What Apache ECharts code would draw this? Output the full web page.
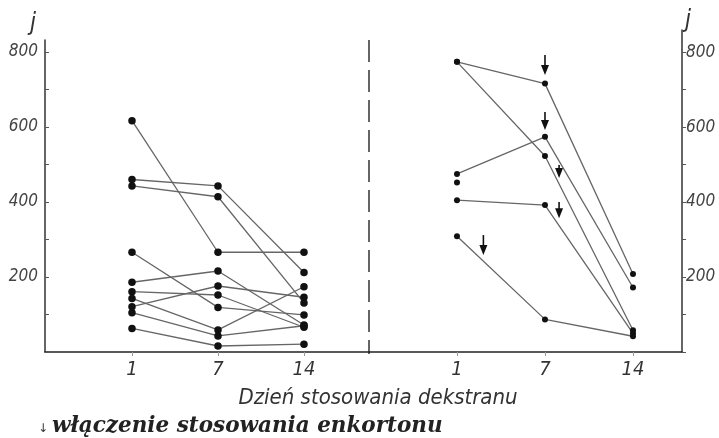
<!DOCTYPE html>
<html>
<head>
<meta charset="utf-8">
<script src="https://cdn.jsdelivr.net/npm/echarts@6/dist/echarts.min.js"></script>
<style>html,body{margin:0;padding:0;background:#fff}#c{width:719px;height:438px}</style>
</head>
<body>
<div id="c"></div>
<script>
// Day categories (positions 0,1,2 on each panel's x axis)
const days = ['1', '7', '14'];
// Y tick values
const yTicks = [200, 400, 600, 800];

// Left panel: values on day 1, 7, 14
const leftA = [617, 266, 266];
const leftB = [460, 443, 212];
const leftC = [443, 414, 131];
const leftD = [266, 119, 99];
const leftE = [186, 216, 72];
const leftF = [161, 152, 66];
const leftG = [143, 59, 174];
const leftH = [121, 176, 146];
const leftI = [105, 43, 70];
const leftJ = [63, 16, 21];

// Right panel: values on day 1, 7, 14
const rightA = [774, 716, 208];
const rightB = [774, 523, 58];
const rightC = [475, 574, 172];
const rightD = [452, null, null];
const rightE = [405, 392, 50];
const rightF = [309, 87, 42];

// Arrows (start of enkorton treatment): [category position, tail value, tip value]
const arrows = [[1, 792, 739], [1, 640, 592], [1.16, 499, 464], [1.16, 400, 357], [0.3, 312, 259]];

const leftSeries = [leftA, leftB, leftC, leftD, leftE, leftF, leftG, leftH, leftI, leftJ];
const rightSeries = [rightA, rightB, rightC, rightD, rightE, rightF];

const narrow = "'Liberation Sans Narrow', 'DejaVu Sans Condensed', sans-serif";

function toPts(arr) { return arr.map((v, i) => [i, v]); }

function xAx(grid, min, max) {
  return {
    type: 'value', gridIndex: grid, min: min, max: max,
    splitLine: { show: false },
    axisLine: { show: true, lineStyle: { color: '#222', width: 1.5 } },
    axisTick: { show: true, customValues: [0, 1, 2], length: 4, lineStyle: { color: '#999' } },
    axisLabel: {
      customValues: [0, 1, 2], formatter: v => days[v] || '',
      fontFamily: narrow, fontStyle: 'italic', fontSize: 20, color: '#333', margin: 8
    }
  };
}

function yAx(grid, max, pos) {
  return {
    type: 'value', gridIndex: grid, min: 0, max: max, interval: 100, position: pos,
    splitLine: { show: false },
    axisLine: { show: true, onZero: false, lineStyle: { color: '#333', width: 1.5 } },
    axisTick: { show: true, length: 4, inside: pos === 'left', lineStyle: { color: '#555' } },
    axisLabel: {
      showMaxLabel: false,
      formatter: v => (yTicks.indexOf(v) >= 0 ? String(v) : ''),
      fontFamily: narrow, fontStyle: 'italic', fontSize: 17, color: '#444', margin: pos === 'left' ? 7 : 4
    }
  };
}

const series = [];
leftSeries.forEach(arr => series.push({
  type: 'line', xAxisIndex: 0, yAxisIndex: 0, data: toPts(arr),
  symbol: 'circle', symbolSize: 7.5, connectNulls: false,
  lineStyle: { color: '#666', width: 1.3 }, itemStyle: { color: '#111' }, silent: true, animation: false
}));
rightSeries.forEach(arr => series.push({
  type: 'line', xAxisIndex: 1, yAxisIndex: 1, data: toPts(arr),
  symbol: 'circle', symbolSize: 6, connectNulls: false,
  lineStyle: { color: '#666', width: 1.3 }, itemStyle: { color: '#111' }, silent: true, animation: false
}));
series.push({
  type: 'custom', xAxisIndex: 1, yAxisIndex: 1, data: arrows, silent: true, animation: false,
  encode: { x: 0, y: [1, 2] },
  renderItem: function (params, api) {
    const x = api.value(0);
    const p1 = api.coord([x, api.value(1)]);
    const p2 = api.coord([x, api.value(2)]);
    const head = 10, hw = 4;
    return {
      type: 'group',
      children: [
        { type: 'line', shape: { x1: p1[0], y1: p1[1], x2: p2[0], y2: p2[1] - head + 1 }, style: { stroke: '#111', lineWidth: 1.6 } },
        { type: 'polygon', shape: { points: [[p2[0] - hw, p2[1] - head], [p2[0] + hw, p2[1] - head], [p2[0], p2[1]]] }, style: { fill: '#111' } }
      ]
    };
  }
});

const chart = echarts.init(document.getElementById('c'), null, { renderer: 'canvas' });
chart.setOption({
  animation: false,
  backgroundColor: '#fff',
  grid: [
    { left: 45, top: 40, width: 324, height: 312 },
    { left: 369, top: 30, width: 313, height: 322 }
  ],
  xAxis: [xAx(0, -1.0116, 2.756), xAx(1, -1, 2.557)],
  yAxis: [yAx(0, 832, 'left'), yAx(1, 859, 'right')],
  series: series,
  graphic: [
    { type: 'line', shape: { x1: 369, y1: 40, x2: 369, y2: 354 }, style: { stroke: '#333', lineWidth: 1.5, lineDash: [22, 8] } },
    { type: 'text', x: 33, y: 24, style: { text: 'j', fontFamily: narrow, fontStyle: 'italic', fontSize: 24, fill: '#333', align: 'center', verticalAlign: 'middle' } },
    { type: 'text', x: 688, y: 21, style: { text: 'j', fontFamily: narrow, fontStyle: 'italic', fontSize: 24, fill: '#333', align: 'center', verticalAlign: 'middle' } },
    { type: 'text', x: 378, y: 398, style: { text: 'Dzień stosowania dekstranu', fontFamily: narrow, fontStyle: 'italic', fontSize: 22, fill: '#333', align: 'center', verticalAlign: 'middle' } },
    { type: 'text', x: 43, y: 429, style: { text: '↓', fontFamily: 'DejaVu Sans', fontSize: 12, fill: '#333', align: 'center', verticalAlign: 'middle' } },
    { type: 'text', x: 52, y: 426, style: { text: 'włączenie stosowania enkortonu', fontFamily: "'DejaVu Serif', serif", fontStyle: 'italic', fontWeight: 'bold', fontSize: 21.5, fill: '#222', align: 'left', verticalAlign: 'middle' } }
  ]
});
</script>
</body>
</html>
